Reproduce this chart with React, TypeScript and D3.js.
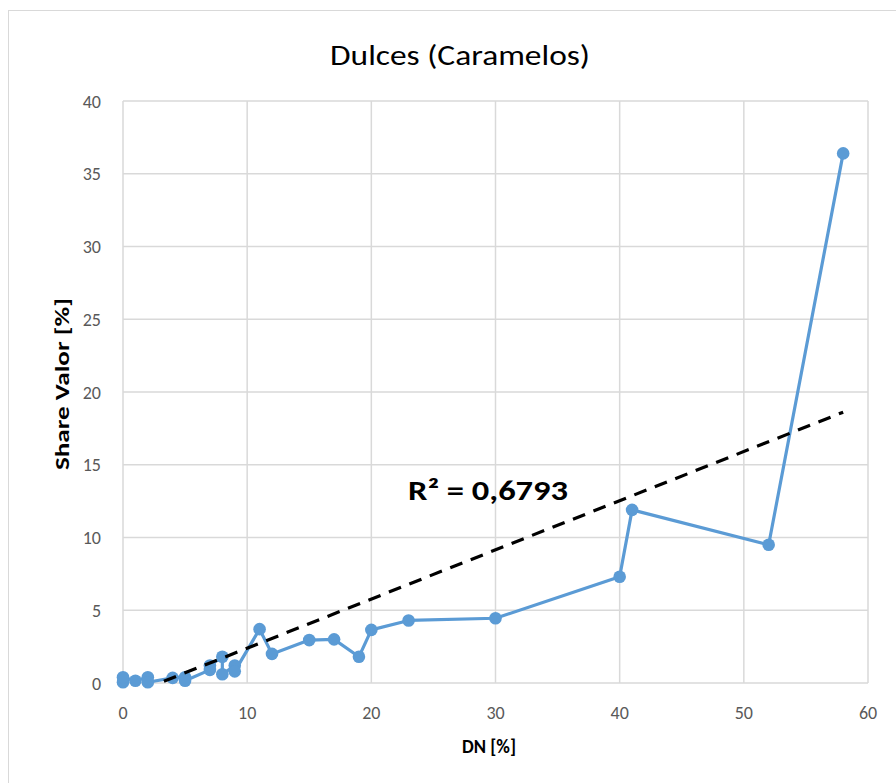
import React from "react";
import * as d3 from "d3";

const DN = [0, 0, 1, 2, 2, 4, 5, 5, 7, 7, 8, 8, 9, 9, 11, 12, 15, 17, 19, 20, 23, 30, 40, 41, 52, 58];
const SHARE = [0.05, 0.4, 0.15, 0.4, 0.05, 0.35, 0.4, 0.15, 0.9, 1.2, 1.8, 0.6, 1.2, 0.8, 3.7, 2.0, 2.95, 3.0, 1.8, 3.65, 4.3, 4.45, 7.3, 11.9, 9.5, 36.4];
const X_TICKS = [0, 10, 20, 30, 40, 50, 60];
const Y_TICKS = [0, 5, 10, 15, 20, 25, 30, 35, 40];
const TREND_SLOPE = 0.338;
const TREND_INTERCEPT = -0.99;
const TREND_X = [0, 58];
const TITLE = "Dulces (Caramelos)";
const X_TITLE = "DN [%]";
const Y_TITLE = "Share Valor [%]";
const R2_LABEL = "R² = 0,6793";

const W = 896, H = 783;
const L = 123, R = 868, T = 101, B = 683;
const FONT = "Carlito, Calibri, Lato, 'Open Sans', sans-serif";

export default function App() {
  const x = d3.scaleLinear().domain([0, 60]).range([L, R]);
  const y = d3.scaleLinear().domain([0, 40]).range([B, T]);
  const pts = DN.map((d, i) => [d, SHARE[i]] as [number, number]);
  const line = d3.line<[number, number]>().x(d => x(d[0])).y(d => y(d[1]));
  const trend: [number, number][] = TREND_X.map(v => [v, TREND_INTERCEPT + TREND_SLOPE * v]);
  return (
    <svg width={W} height={H} style={{ position: "absolute", left: 0, top: 0, background: "#fff" }}>
      <defs>
        <clipPath id="pa">
          <rect x={L} y={T} width={R - L} height={B - T} />
        </clipPath>
      </defs>
      <rect x={8.5} y={10.5} width={W + 20} height={H + 20} fill="#fff" stroke="#d9d9d9" strokeWidth={1} />
      <text x={460} y={65} textAnchor="middle" fontFamily={FONT} fontSize={29} fill="#000"
        textLength={260} lengthAdjust="spacingAndGlyphs">{TITLE}</text>
      {Y_TICKS.map(t => (
        <g key={"y" + t}>
          <line x1={L} x2={R} y1={y(t)} y2={y(t)} stroke="#d9d9d9" strokeWidth={1.5} />
          <text x={101} y={y(t) + 6.5} textAnchor="end" fontFamily={FONT} fontSize={18} fill="#595959">{t}</text>
        </g>
      ))}
      {X_TICKS.map(t => (
        <g key={"x" + t}>
          <line x1={x(t)} x2={x(t)} y1={T} y2={B} stroke="#d9d9d9" strokeWidth={1.5} />
          <text x={x(t)} y={719} textAnchor="middle" fontFamily={FONT} fontSize={18} fill="#595959">{t}</text>
        </g>
      ))}
      <text x={489} y={753} textAnchor="middle" fontFamily={FONT} fontSize={20} fontWeight="bold" fill="#000"
        textLength={54} lengthAdjust="spacingAndGlyphs">{X_TITLE}</text>
      <text transform={`translate(69,${384}) rotate(-90)`} textAnchor="middle" fontFamily={FONT} fontSize={20} fontWeight="bold" fill="#000"
        textLength={172} lengthAdjust="spacingAndGlyphs">{Y_TITLE}</text>
      <path d={line(pts) || ""} fill="none" stroke="#5b9bd5" strokeWidth={3.2} strokeLinejoin="round" />
      {pts.map((p, i) => (
        <circle key={i} cx={x(p[0])} cy={y(p[1])} r={6.3} fill="#5b9bd5" />
      ))}
      <g clipPath="url(#pa)">
        <path d={line(trend) || ""} fill="none" stroke="#000" strokeWidth={3.2} strokeDasharray="13 9" />
      </g>
      <text x={488} y={500} textAnchor="middle" fontFamily={FONT} fontSize={28} fontWeight="bold" fill="#000"
        textLength={160} lengthAdjust="spacingAndGlyphs">{R2_LABEL}</text>
    </svg>
  );
}
